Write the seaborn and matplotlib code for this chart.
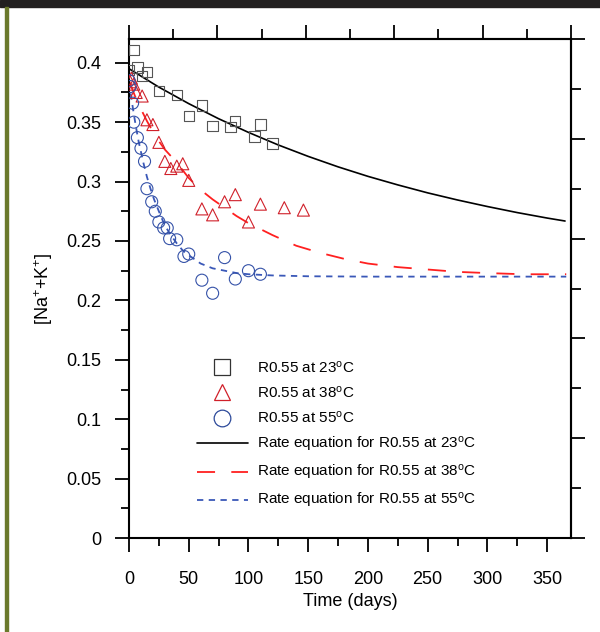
import matplotlib
matplotlib.use("Agg")
import matplotlib.pyplot as plt
import seaborn as sns
from matplotlib.lines import Line2D
from matplotlib.patches import Rectangle
from matplotlib.ticker import MultipleLocator, FixedLocator, NullFormatter

# measured points, R0.55 at three temperatures
days_23 = [0, 4, 7, 11, 15, 25, 40, 50, 61, 70, 85, 89, 105, 110, 120]
conc_23 = [0.394, 0.411, 0.396, 0.389, 0.392, 0.376, 0.373, 0.355, 0.364,
           0.347, 0.346, 0.351, 0.338, 0.348, 0.332]

days_38 = [1, 2, 4, 6, 11, 15, 20, 25, 30, 35, 40, 45, 50, 61, 70, 80, 89,
           100, 110, 130, 146]
conc_38 = [0.384, 0.387, 0.382, 0.375, 0.372, 0.352, 0.348, 0.333, 0.317,
           0.311, 0.313, 0.315, 0.301, 0.277, 0.272, 0.283, 0.289, 0.266,
           0.281, 0.278, 0.276]

days_55 = [0, 1, 3, 4, 7, 10, 13, 15, 19, 22, 25, 29, 32, 34, 40, 46, 50,
           61, 70, 80, 89, 100, 110]
conc_55 = [0.385, 0.380, 0.366, 0.350, 0.337, 0.328, 0.317, 0.294, 0.283,
           0.275, 0.266, 0.261, 0.261, 0.252, 0.251, 0.237, 0.239, 0.217,
           0.206, 0.236, 0.218, 0.225, 0.222]

# rate equation curves
fit_days_23 = [0, 25, 50, 75, 100, 125, 150, 175, 200, 225, 250, 275, 300,
               325, 350, 365]
fit_conc_23 = [0.395, 0.3795, 0.3656, 0.3529, 0.3414, 0.3308, 0.3212,
               0.3124, 0.3044, 0.2972, 0.2905, 0.2845, 0.279, 0.2739,
               0.2693, 0.2668]

fit_days_38 = [0, 5, 10, 15, 20, 25, 30, 40, 50, 60, 70, 80, 90, 100, 120,
               140, 160, 180, 200, 225, 250, 275, 300, 330, 366]
fit_conc_38 = [0.385, 0.372, 0.361, 0.351, 0.342, 0.334, 0.327, 0.316,
               0.303, 0.293, 0.285, 0.278, 0.271, 0.265, 0.255, 0.246,
               0.240, 0.235, 0.231, 0.228, 0.226, 0.224, 0.223, 0.222, 0.222]

fit_days_55 = [0, 2, 4, 6, 8, 10, 12, 15, 18, 21, 25, 30, 35, 40, 45, 50,
               60, 70, 80, 90, 100, 120, 150, 200, 366]
fit_conc_55 = [0.384, 0.370, 0.357, 0.345, 0.334, 0.325, 0.316, 0.304,
               0.294, 0.285, 0.275, 0.263, 0.255, 0.248, 0.242, 0.238,
               0.231, 0.227, 0.225, 0.223, 0.222, 0.221, 0.2203, 0.220, 0.220]

labels_pts = ["R0.55 at 23$^{o}$C", "R0.55 at 38$^{o}$C", "R0.55 at 55$^{o}$C"]
labels_fit = ["Rate equation for " + s for s in labels_pts]

sns.set_theme(style="ticks")
plt.rcParams["font.family"] = ["Liberation Sans", "DejaVu Sans"]
plt.rcParams["mathtext.default"] = "regular"
for k in ["xtick.color", "ytick.color", "xtick.labelcolor", "ytick.labelcolor",
          "axes.labelcolor", "text.color"]:
    plt.rcParams[k] = "black"

c_sq, c_tri, c_circ = "#555555", "#d0202a", "#3552a8"
c_red, c_blue = "#ff2020", "#3a58b8"

fig = plt.figure(figsize=(6, 6.32), dpi=100)
ax = fig.add_axes([0.215, 0.1487, 0.7367, 0.7896])

sns.lineplot(x=fit_days_23, y=fit_conc_23, ax=ax, color="black", linewidth=1.2)
sns.lineplot(x=fit_days_38, y=fit_conc_38, ax=ax, color=c_red, linewidth=1.3,
             linestyle=(0, (10, 9)))
sns.lineplot(x=fit_days_55, y=fit_conc_55, ax=ax, color=c_blue, linewidth=1.3,
             linestyle=(0, (3.5, 3)))

sns.scatterplot(x=days_23, y=conc_23, ax=ax, marker="s", s=55, color=c_sq,
                facecolor="none", edgecolor=c_sq, linewidth=0.8, zorder=3)
sns.scatterplot(x=days_38, y=conc_38, ax=ax, marker="^", s=75, color=c_tri,
                facecolor="none", edgecolor=c_tri, linewidth=0.8, zorder=3)
sns.scatterplot(x=days_55, y=conc_55, ax=ax, marker="o", s=75, color=c_circ,
                facecolor="none", edgecolor=c_circ, linewidth=0.8, zorder=3)

ax.set_xlim(0, 370)
ax.set_ylim(0, 0.42)
ax.xaxis.set_major_locator(MultipleLocator(50))
ax.xaxis.set_minor_locator(MultipleLocator(25))
ax.set_yticks([0, 0.05, 0.1, 0.15, 0.2, 0.25, 0.3, 0.35, 0.4],
              ["0", "0.05", "0.1", "0.15", "0.2", "0.25", "0.3", "0.35", "0.4"])
ax.yaxis.set_minor_locator(MultipleLocator(0.025))
ax.tick_params(axis="both", which="major", direction="out", length=10,
               width=1.3, labelsize=13, color="black")
ax.tick_params(axis="both", which="minor", direction="out", length=6,
               width=1.3, color="black")
ax.tick_params(axis="x", which="major", pad=14)
ax.tick_params(axis="y", which="major", pad=10)
for sp in ax.spines.values():
    sp.set_visible(True)
    sp.set_linewidth(1.5)
    sp.set_color("black")

# top and right axes carry their own tick divisions
top = ax.secondary_xaxis("top")
top.set_xticks([0, 74, 148, 222, 296, 370])
top.xaxis.set_minor_locator(FixedLocator([37, 111, 185, 259, 333]))
top.xaxis.set_major_formatter(NullFormatter())
top.tick_params(which="major", direction="out", length=10, width=1.3)
top.tick_params(which="minor", direction="out", length=7, width=1.3)
top.spines["top"].set_linewidth(1.5)

right = ax.secondary_yaxis("right")
right.set_yticks([0, 0.084, 0.168, 0.252, 0.336, 0.42])
right.yaxis.set_minor_locator(FixedLocator([0.042, 0.126, 0.21, 0.294, 0.378]))
right.yaxis.set_major_formatter(NullFormatter())
right.tick_params(which="major", direction="out", length=10, width=1.3)
right.tick_params(which="minor", direction="out", length=7, width=1.3)
right.spines["right"].set_linewidth(1.5)

ax.set_xlabel("Time (days)", fontsize=13, labelpad=3)
ax.set_ylabel("[Na$^{+}$+K$^{+}$]", fontsize=13, labelpad=8)

handles = [
    Line2D([], [], linestyle="none", marker="s", markersize=11.5,
           markerfacecolor="none", markeredgecolor="#333333", markeredgewidth=0.9),
    Line2D([], [], linestyle="none", marker="^", markersize=12,
           markerfacecolor="none", markeredgecolor=c_tri, markeredgewidth=0.9),
    Line2D([], [], linestyle="none", marker="o", markersize=12,
           markerfacecolor="none", markeredgecolor="#2d4a9a", markeredgewidth=0.9),
    Line2D([], [], color="black", linewidth=1.2),
    Line2D([], [], color=c_red, linewidth=1.3, linestyle=(0, (10, 9))),
    Line2D([], [], color=c_blue, linewidth=1.3, linestyle=(0, (3.5, 3))),
]
ax.legend(handles, labels_pts + labels_fit, loc="lower left",
          bbox_to_anchor=(0.1355, 0.04), frameon=False, fontsize=11,
          handlelength=3.34, handletextpad=0.59, labelspacing=0.6, borderpad=0)

# page decoration: dark bar on top, olive rule on the left
fig.patches.append(Rectangle((0, 1 - 7 / 632), 1, 7 / 632,
                             transform=fig.transFigure, color="#222020", zorder=0))
fig.patches.append(Rectangle((5 / 600, 0), 2.5 / 600, 1 - 7 / 632,
                             transform=fig.transFigure, color="#6b7a2c", zorder=0))

fig.savefig("out.png", dpi=100)
